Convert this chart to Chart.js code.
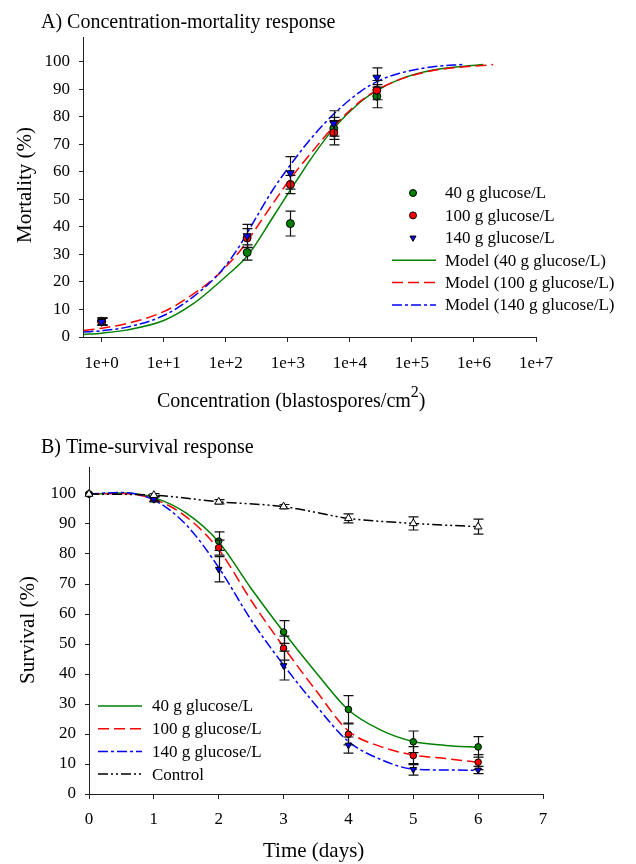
<!DOCTYPE html>
<html><head><meta charset="utf-8">
<script src="https://cdn.jsdelivr.net/npm/chart.js@4.4.1/dist/chart.umd.min.js"></script>
<style>
html,body{margin:0;padding:0;background:#fff;}
#wrap{position:relative;width:636px;height:864px;}
canvas{position:absolute;left:0;}
#cA{top:0;}
#cB{top:432px;}
</style></head><body>
<div id="wrap">
<canvas id="cA" width="636" height="432" style="width:636px;height:432px"></canvas>
<canvas id="cB" width="636" height="432" style="width:636px;height:432px"></canvas>
</div>
<script>
// ---------- Panel A: concentration-mortality ----------
const concentrations = [1, 221, 1100, 5500, 27200];
const mort40  = [5.7, 30.7, 41.2, 75.8, 87.5];
const mort100 = [5.7, 36.0, 55.4, 74.2, 89.7];
const mort140 = [5.5, 36.7, 59.6, 77.6, 94.3];
const errMort40  = [1.3, 2.8, 4.5, 4.0, 4.2];
const errMort100 = [1.3, 3.4, 3.3, 4.4, 3.5];
const errMort140 = [1.3, 4.2, 5.9, 4.6, 3.5];

const modelConc40  = [0.51, 1, 2.45, 10, 29.5, 100, 224, 575, 1000, 1550, 2240, 5500, 14450, 27200, 63000, 219000, 1410000];
const modelMort40  = [0.9, 1.4, 2.5, 6.0, 12.0, 22.0, 29.5, 43.5, 52.0, 58.5, 64.0, 75.8, 85.2, 89.5, 93.6, 97.0, 99.0];
const modelConc100 = [0.51, 1, 2.45, 10, 29.5, 74, 100, 166, 224, 575, 1100, 2510, 5500, 14450, 27200, 63000, 219000, 2040000];
const modelMort100 = [2.4, 3.2, 4.8, 9.2, 15.5, 22.5, 25.5, 31.0, 35.0, 48.5, 57.5, 67.5, 76.5, 85.5, 89.7, 93.5, 96.8, 99.0];
const modelConc140 = [0.51, 1, 2.45, 10, 29.5, 74, 100, 166, 224, 575, 1100, 2240, 5500, 14450, 27200, 63000, 219000, 660000];
const modelMort140 = [1.8, 2.3, 3.5, 7.8, 14.5, 22.5, 26.0, 33.0, 38.0, 53.5, 62.5, 71.5, 81.0, 89.0, 92.8, 95.8, 98.2, 99.0];

const xTicksA = [1, 10, 100, 1000, 10000, 100000, 1000000, 10000000];
const yTicks = [0, 10, 20, 30, 40, 50, 60, 70, 80, 90, 100];

// ---------- Panel B: time-survival ----------
const days = [0, 1, 2, 3, 4, 5, 6];
const surv40  = [100, 98.5, 84.3, 54.0, 28.2, 17.4, 15.7];
const surv100 = [100, 98.3, 82.1, 48.6, 19.9, 12.8, 10.6];
const surv140 = [100, 98.2, 74.9, 42.8, 16.3, 8.2, 8.0];
const survControl = [100, 99.6, 97.4, 95.8, 91.9, 90.2, 89.1];
const errSurv40  = [0, 0.8, 3.1, 3.8, 4.6, 3.6, 3.4];
const errSurv100 = [0, 0.8, 2.5, 4.0, 3.5, 3.0, 2.5];
const errSurv140 = [0, 0.8, 4.2, 4.8, 2.7, 1.9, 1.2];
const errControl = [0, 0.5, 0.7, 0.7, 1.5, 2.2, 2.5];

const modelDays = [0, 0.5, 1, 1.5, 2, 2.5, 3, 3.5, 4, 4.5, 5, 5.5, 6];
const modelSurv40  = [100, 100.3, 98.8, 93.6, 84.0, 68.5, 54.0, 40.5, 28.0, 21.3, 17.5, 16.2, 15.5];
const modelSurv100 = [100, 100.2, 98.3, 92.4, 81.5, 64.5, 49.0, 34.5, 21.0, 15.8, 13.0, 11.8, 10.6];
const modelSurv140 = [100, 100.5, 98.0, 89.7, 75.5, 58.0, 43.0, 29.5, 17.5, 11.5, 8.3, 8.0, 7.9];

const xTicksB = [0, 1, 2, 3, 4, 5, 6, 7];

// ---------- helpers ----------
const FONT = "'Liberation Serif', 'Times New Roman', serif";
const AX = '#222';
const GREEN = '#008000', RED = '#ff0000', BLUE = '#0000ff';
const pts = (xs, ys) => xs.map((x, i) => ({x: x, y: ys[i]}));
const fixedTicks = vals => scale => { scale.ticks = vals.map(v => ({value: v})); };

const errorBarPlugin = {
  id: 'errorBars',
  beforeDatasetDraw(chart, args) {
    const ds = chart.data.datasets[args.index];
    if (!ds.errorBars) return;
    const ctx = chart.ctx, xs = chart.scales.x, ys = chart.scales.y;
    ctx.save();
    ctx.strokeStyle = '#111'; ctx.lineWidth = 1.2; ctx.setLineDash([]);
    ds.data.forEach((p, i) => {
      const e = ds.errorBars[i];
      if (!e) return;
      const px = Math.round(xs.getPixelForValue(p.x)) + 0.5;
      const y1 = ys.getPixelForValue(p.y + e), y2 = ys.getPixelForValue(p.y - e);
      ctx.beginPath();
      ctx.moveTo(px, y1); ctx.lineTo(px, y2);
      ctx.moveTo(px - 5, y1); ctx.lineTo(px + 5, y1);
      ctx.moveTo(px - 5, y2); ctx.lineTo(px + 5, y2);
      ctx.stroke();
    });
    ctx.restore();
  }
};

function drawLegend(ctx, chart, items, cfg) {
  ctx.save();
  ctx.font = '17px ' + FONT;
  ctx.textBaseline = 'middle';
  ctx.fillStyle = '#000';
  items.forEach((it, k) => {
    const ds = chart.data.datasets[it];
    const y = cfg.y0 + k * cfg.dy;
    if (ds.showLine === false) {
      ctx.fillStyle = ds.pointBackgroundColor;
      ctx.strokeStyle = ds.pointBorderColor;
      ctx.lineWidth = 1;
      Chart.helpers.drawPoint(ctx, {pointStyle: ds.pointStyle, rotation: ds.pointRotation || 0, radius: cfg.r, borderWidth: 1}, cfg.mx, y);
    } else {
      ctx.strokeStyle = ds.borderColor;
      ctx.lineWidth = ds.borderWidth;
      ctx.setLineDash(ds.borderDash || []);
      ctx.beginPath(); ctx.moveTo(cfg.l1, y); ctx.lineTo(cfg.l2, y); ctx.stroke();
      ctx.setLineDash([]);
    }
    ctx.fillStyle = '#000';
    ctx.fillText(ds.label, cfg.tx, y + 1);
  });
  ctx.restore();
}

function scaleX(type, min, max, ticks, cb, pad) {
  return {
    type: type, min: min, max: max,
    afterBuildTicks: fixedTicks(ticks),
    afterFit: s => { s.height = 60; },
    ticks: {callback: cb, font: {family: FONT, size: 17}, color: '#000', padding: pad, maxRotation: 0, autoSkip: false},
    grid: {display: true, drawOnChartArea: false, drawTicks: true, tickLength: 5, color: AX},
    border: {display: true, color: AX, width: 1}
  };
}
function scaleY(width) {
  return {
    min: 0, max: 109,
    afterBuildTicks: fixedTicks(yTicks),
    afterFit: s => { s.width = width; },
    ticks: {font: {family: FONT, size: 17}, color: '#000', padding: 9},
    grid: {display: true, drawOnChartArea: false, drawTicks: true, tickLength: 4, color: AX},
    border: {display: true, color: AX, width: 1}
  };
}

function pointSet(label, data, err, color, style, rot, r, order) {
  return {label: label, data: data, errorBars: err, showLine: false, clip: false,
    pointStyle: style, pointRotation: rot, pointRadius: r, pointHoverRadius: r,
    pointBackgroundColor: color, pointBorderColor: '#000', pointBorderWidth: 1,
    borderColor: color, backgroundColor: color, order: order};
}
function lineSet(label, data, color, dash, order) {
  return {label: label, data: data, showLine: true, borderColor: color, backgroundColor: color,
    borderWidth: 1.5, borderDash: dash, pointRadius: 0, pointHoverRadius: 0,
    cubicInterpolationMode: 'monotone', fill: false, order: order};
}

Chart.defaults.font.family = FONT;
Chart.defaults.animation = false;

// ---------- Chart A ----------
const textA = {
  id: 'textA',
  afterDraw(chart) {
    const ctx = chart.ctx;
    ctx.save();
    ctx.fillStyle = '#000';
    ctx.textBaseline = 'alphabetic';
    ctx.font = '20px ' + FONT;
    ctx.fillText('A) Concentration-mortality response', 41, 28);
    ctx.font = '20px ' + FONT;
    const main = 'Concentration (blastospores/cm';
    ctx.fillText(main, 157, 407);
    const w = ctx.measureText(main).width;
    ctx.font = '16px ' + FONT;
    ctx.fillText('2', 157 + w, 397);
    const w2 = ctx.measureText('2').width;
    ctx.font = '20px ' + FONT;
    ctx.fillText(')', 157 + w + w2, 407);
    ctx.font = '21px ' + FONT;
    ctx.translate(30.5, 185);
    ctx.rotate(-Math.PI / 2);
    ctx.textAlign = 'center';
    ctx.fillText('Mortality (%)', 0, 0);
    ctx.restore();
    drawLegend(ctx, chart, [0, 1, 2, 3, 4, 5], {y0: 193, dy: 22.4, mx: 413, r: 3.5, l1: 392, l2: 436, tx: 445});
  }
};

new Chart(document.getElementById('cA'), {
  type: 'scatter',
  data: {datasets: [
    pointSet('40 g glucose/L', pts(concentrations, mort40), errMort40, GREEN, 'circle', 0, 4, 3),
    pointSet('100 g glucose/L', pts(concentrations, mort100), errMort100, RED, 'circle', 0, 4, 2),
    pointSet('140 g glucose/L', pts(concentrations, mort140), errMort140, BLUE, 'triangle', 180, 4.5, 1),
    lineSet('Model (40 g glucose/L)', pts(modelConc40, modelMort40), GREEN, [], 6),
    lineSet('Model (100 g glucose/L)', pts(modelConc100, modelMort100), RED, [11, 5], 5),
    lineSet('Model (140 g glucose/L)', pts(modelConc140, modelMort140), BLUE, [10, 3, 3, 3], 4)
  ]},
  options: {
    responsive: false, animation: false,
    layout: {padding: {left: 0, top: 37, right: 100, bottom: 35}},
    plugins: {legend: {display: false}, tooltip: {enabled: false}, title: {display: false}},
    scales: {
      x: scaleX('logarithmic', 0.5, 1e7, xTicksA, v => '1e+' + Math.round(Math.log10(v)), 11),
      y: scaleY(83)
    }
  },
  plugins: [errorBarPlugin, textA]
});

// ---------- Chart B ----------
const textB = {
  id: 'textB',
  afterDraw(chart) {
    const ctx = chart.ctx;
    ctx.save();
    ctx.fillStyle = '#000';
    ctx.font = '20px ' + FONT;
    ctx.fillText('B) Time-survival response', 41, 21);
    ctx.font = '21px ' + FONT;
    ctx.fillText('Time (days)', 263, 425);
    ctx.translate(34, 198);
    ctx.rotate(-Math.PI / 2);
    ctx.textAlign = 'center';
    ctx.fillText('Survival (%)', 0, 0);
    ctx.restore();
    drawLegend(ctx, chart, [4, 5, 6, 7], {y0: 274, dy: 22.7, mx: 120, r: 3.5, l1: 98, l2: 142, tx: 152});
  }
};

new Chart(document.getElementById('cB'), {
  type: 'scatter',
  data: {datasets: [
    pointSet('40 g glucose/L', pts(days, surv40), errSurv40, GREEN, 'circle', 0, 3.3, 4),
    pointSet('100 g glucose/L', pts(days, surv100), errSurv100, RED, 'circle', 0, 3.3, 3),
    pointSet('140 g glucose/L', pts(days, surv140), errSurv140, BLUE, 'triangle', 180, 3.8, 2),
    pointSet('Control', pts(days, survControl), errControl, '#ffffff', 'triangle', 0, 4.5, 1),
    lineSet('40 g glucose/L', pts(modelDays, modelSurv40), GREEN, [], 8),
    lineSet('100 g glucose/L', pts(modelDays, modelSurv100), RED, [11, 5], 7),
    lineSet('140 g glucose/L', pts(modelDays, modelSurv140), BLUE, [10, 3, 3, 3], 6),
    lineSet('Control', pts(days, survControl), '#000000', [10, 3, 2, 3, 2, 3], 5)
  ]},
  options: {
    responsive: false, animation: false,
    layout: {padding: {left: 0, top: 35, right: 93, bottom: 10}},
    plugins: {legend: {display: false}, tooltip: {enabled: false}, title: {display: false}},
    scales: {
      x: scaleX('linear', 0, 7, xTicksB, v => String(v), 10),
      y: scaleY(89)
    }
  },
  plugins: [errorBarPlugin, textB]
});
</script>
</body></html>
